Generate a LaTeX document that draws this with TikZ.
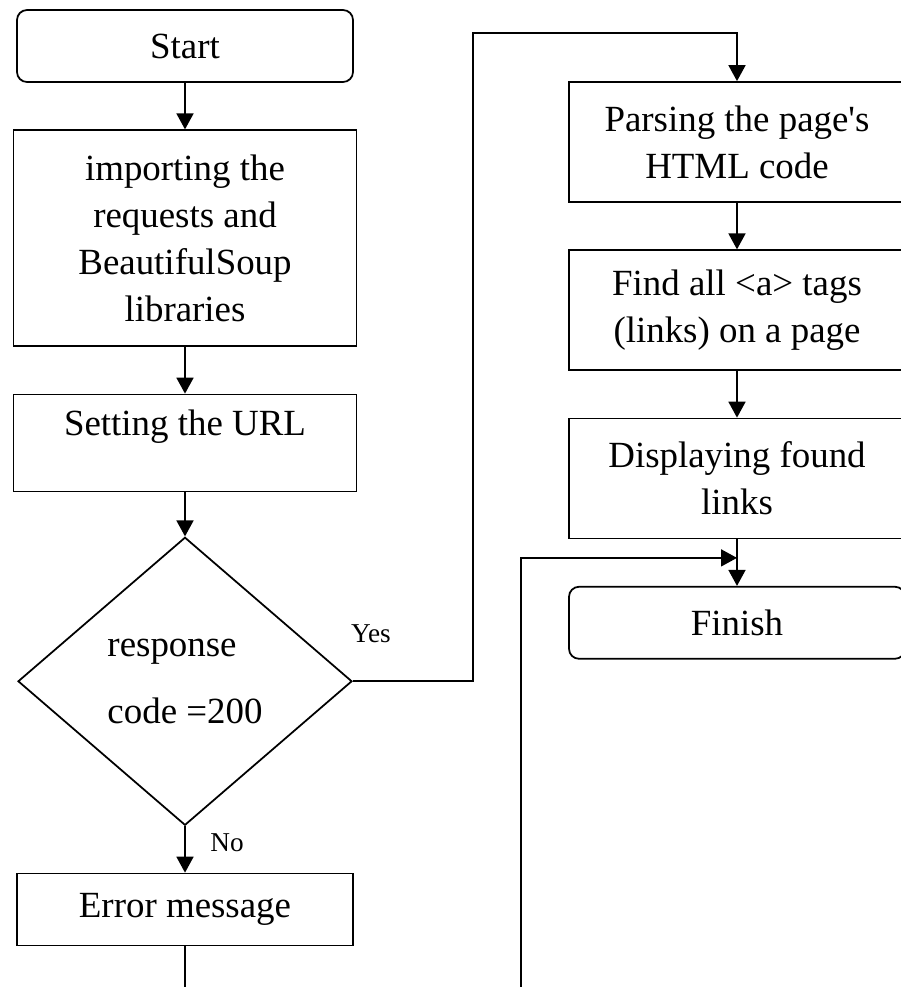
\documentclass[tikz,border=0pt]{standalone}
\usepackage{fontspec}
\setmainfont{Liberation Serif}[Ligatures=TeXOff]
\usetikzlibrary{shapes.geometric,arrows.meta,positioning,calc}

\begin{document}
\begin{tikzpicture}[line width=1pt,
          >={Triangle[length=0.32cm,width=0.34cm]},
          term/.style={draw,rounded corners=0.2cm,
                       minimum width=6.72cm,minimum height=1.44cm,
                       align=center,font=\fontsize{21}{26.7}\selectfont},
          proc/.style={draw,minimum width=6.72cm,minimum height=2.4cm,
                       align=center,font=\fontsize{21}{26.7}\selectfont},
          cond/.style={draw,diamond,inner sep=0pt,
                       minimum width=6.68cm,minimum height=5.76cm,
                       align=left,font=\fontsize{21}{26.7}\selectfont},
          lbl/.style={font=\fontsize{15.5}{18}\selectfont},
          flow/.style={->}]
        \useasboundingbox (0,0) rectangle (18.02,-19.74);
        % left column
        \node[term] (start) at (3.7,-0.92) {Start};
        \node[proc,minimum width=6.86cm,minimum height=4.32cm,below=0.93cm of start] (imp)
          {importing the\\requests and\\BeautifulSoup\\libraries};
        \node[proc,minimum width=6.86cm,minimum height=1.94cm,text depth=0.8cm,below=0.93cm of imp] (url)
          {Setting the URL};
        \node[cond,below=0.88cm of url] (dec) {response\\[0.4cm]code =200};
        \node[proc,minimum height=1.44cm,below=0.93cm of dec] (err) {Error message};
        % right column
        \node[proc] (parse) at (14.74,-2.84) {Parsing the page's\\HTML code};
        \node[proc,below=0.93cm of parse] (find) {Find all <a> tags\\(links) on a page};
        \node[proc,below=0.93cm of find] (disp) {Displaying found\\links};
        \node[term,below=0.93cm of disp] (fin) {Finish};
        \draw[flow] (start) -- (imp);
        \draw[flow] (imp) -- (url);
        \draw[flow] (url) -- (dec);
        \draw[flow] (dec) -- (err);
        \node[lbl] (no) at ($(dec.south)+(0.84,-0.34)$) {No};
        \draw[flow] (dec.east) -- ++(2.4,0) |- ([yshift=0.96cm]parse.north) -- (parse.north);
        \node[lbl] (yes) at ($(dec.east)+(0.36,0.95)$) {Yes};
        \draw[flow] (parse) -- (find);
        \draw[flow] (find) -- (disp);
        \draw[flow] (disp) -- (fin);
        \coordinate (errend) at ([yshift=-0.82cm]err.south);
        \draw (err.south) -- (errend);
        \coordinate (loop) at ($(errend -| fin.west)+(-0.94,0)$);
        \coordinate (join) at ([yshift=0.56cm]fin.north);
        \draw[flow] (loop) |- (join);
      \end{tikzpicture}
\end{document}
